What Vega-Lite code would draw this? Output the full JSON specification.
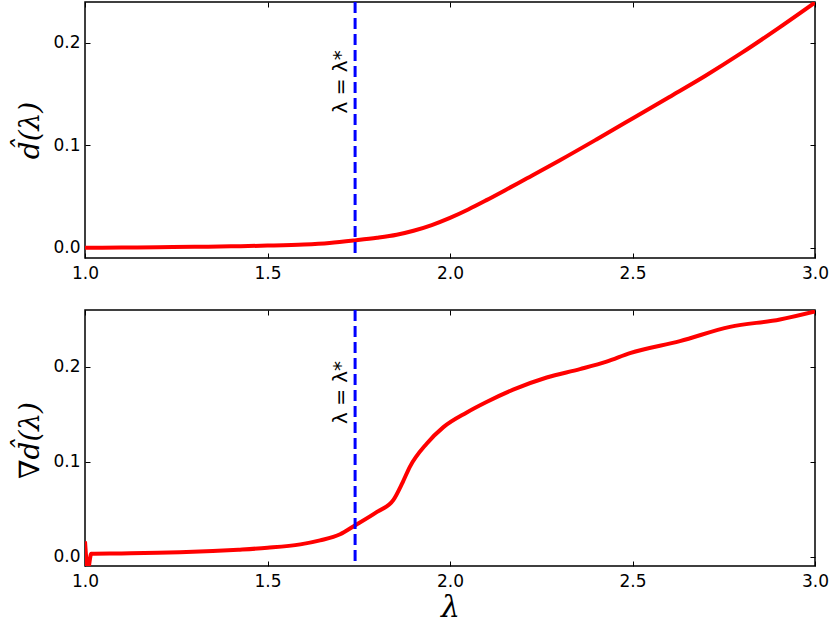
{
  "$schema": "https://vega.github.io/schema/vega-lite/v6.json",
  "padding": {"left": 15, "top": -1, "right": 1, "bottom": 5},
  "bounds": "flush",
  "spacing": 52,
  "config": {
    "view": {"stroke": "black", "strokeWidth": 1.5},
    "font": "DejaVu Sans",
    "axis": {
      "domain": false, "grid": false, "tickColor": "black", "tickSize": -5, "tickWidth": 1,
      "labelFont": "DejaVu Sans", "labelFontSize": 17, "labelColor": "black", "titleColor": "black",
      "labelFlush": false, "labelOverlap": false, "labelBound": false
    }
  },
  "datasets": {
    "top": [
      {"lambda": 1.0, "d": 0.0}, {"lambda": 1.1, "d": 0.0002}, {"lambda": 1.2, "d": 0.0005},
      {"lambda": 1.3, "d": 0.0009}, {"lambda": 1.4, "d": 0.0014}, {"lambda": 1.5, "d": 0.0021},
      {"lambda": 1.6, "d": 0.0032}, {"lambda": 1.67, "d": 0.0047}, {"lambda": 1.74, "d": 0.0072},
      {"lambda": 1.8, "d": 0.0097}, {"lambda": 1.854, "d": 0.0127}, {"lambda": 1.9, "d": 0.0166},
      {"lambda": 1.95, "d": 0.0222}, {"lambda": 2.0, "d": 0.0292}, {"lambda": 2.05, "d": 0.0374},
      {"lambda": 2.1, "d": 0.0465}, {"lambda": 2.15, "d": 0.056}, {"lambda": 2.2, "d": 0.0657},
      {"lambda": 2.3, "d": 0.0852}, {"lambda": 2.4, "d": 0.1055}, {"lambda": 2.5, "d": 0.1262},
      {"lambda": 2.6, "d": 0.147}, {"lambda": 2.7, "d": 0.168}, {"lambda": 2.8, "d": 0.1905},
      {"lambda": 2.9, "d": 0.2145}, {"lambda": 3.0, "d": 0.2395}
    ],
    "bottom": [
      {"lambda": 1.0, "g": 0.016}, {"lambda": 1.008, "g": -0.014}, {"lambda": 1.017, "g": 0.0028},
      {"lambda": 1.1, "g": 0.0032}, {"lambda": 1.2, "g": 0.0039}, {"lambda": 1.26, "g": 0.0045},
      {"lambda": 1.35, "g": 0.0058}, {"lambda": 1.42, "g": 0.0072}, {"lambda": 1.5, "g": 0.0092},
      {"lambda": 1.59, "g": 0.0128}, {"lambda": 1.644, "g": 0.017}, {"lambda": 1.699, "g": 0.0235},
      {"lambda": 1.735, "g": 0.0317}, {"lambda": 1.8, "g": 0.047}, {"lambda": 1.845, "g": 0.0597},
      {"lambda": 1.87, "g": 0.078}, {"lambda": 1.89, "g": 0.0946}, {"lambda": 1.936, "g": 0.119},
      {"lambda": 1.982, "g": 0.1365}, {"lambda": 2.046, "g": 0.152}, {"lambda": 2.1, "g": 0.163},
      {"lambda": 2.173, "g": 0.176}, {"lambda": 2.265, "g": 0.1888}, {"lambda": 2.356, "g": 0.1976},
      {"lambda": 2.429, "g": 0.2055}, {"lambda": 2.493, "g": 0.2145}, {"lambda": 2.63, "g": 0.2272},
      {"lambda": 2.767, "g": 0.2422}, {"lambda": 2.904, "g": 0.25}, {"lambda": 3.0, "g": 0.2585}
    ],
    "annot_top": [{"lambda_star": 1.74, "label_x": 1.718, "label_y": 0.162, "label": "λ = λ*"}],
    "annot_bottom": [{"lambda_star": 1.74, "label_x": 1.718, "label_y": 0.173, "label": "λ = λ*"}]
  },
  "vconcat": [
    {
      "width": 730, "height": 256,
      "layer": [
        {
          "data": {"name": "top"},
          "mark": {"type": "line", "color": "#ff0000", "strokeWidth": 4, "clip": true, "interpolate": "monotone"},
          "encoding": {
            "x": {"field": "lambda", "type": "quantitative",
                  "scale": {"domain": [1, 3], "nice": false, "zero": false},
                  "axis": {"orient": "bottom", "values": [1, 1.5, 2, 2.5, 3], "format": ".1f", "title": null, "labelPadding": 12}},
            "y": {"field": "d", "type": "quantitative",
                  "scale": {"domain": [-0.01, 0.24], "nice": false, "zero": false},
                  "axis": {"orient": "left", "values": [0, 0.1, 0.2], "format": ".1f", "labelPadding": 10,
                           "title": "d̂(λ)", "titleFont": "DejaVu Serif", "titleFontStyle": "italic", "titleFontWeight": "normal",
                           "titleFontSize": 28, "titleX": -47, "titleY": 128, "titleAngle": 270, "titleAlign": "center", "titleBaseline": "alphabetic"}}
          }
        },
        {
          "data": {"name": "annot_top"},
          "mark": {"type": "rule", "color": "#0000ff", "strokeWidth": 3, "strokeDash": [11, 5]},
          "encoding": {"x": {"field": "lambda_star", "type": "quantitative", "axis": null}}
        },
        {
          "data": {"name": "annot_top"},
          "mark": {"type": "text", "angle": 270, "align": "center", "baseline": "alphabetic", "font": "DejaVu Sans", "fontSize": 20, "color": "black"},
          "encoding": {
            "x": {"field": "label_x", "type": "quantitative", "axis": {"orient": "top", "labels": false, "values": [1, 1.5, 2, 2.5, 3], "title": null}},
            "y": {"field": "label_y", "type": "quantitative", "axis": {"orient": "right", "labels": false, "values": [0, 0.1, 0.2], "title": null}},
            "text": {"field": "label"}
          }
        }
      ],
      "resolve": {"axis": {"x": "independent", "y": "independent"}}
    },
    {
      "width": 730, "height": 256,
      "layer": [
        {
          "data": {"name": "bottom"},
          "mark": {"type": "line", "color": "#ff0000", "strokeWidth": 4, "clip": true, "interpolate": "monotone"},
          "encoding": {
            "x": {"field": "lambda", "type": "quantitative",
                  "scale": {"domain": [1, 3], "nice": false, "zero": false},
                  "axis": {"orient": "bottom", "values": [1, 1.5, 2, 2.5, 3], "format": ".1f", "labelPadding": 12,
                           "title": "λ", "titleFont": "DejaVu Serif", "titleFontStyle": "italic", "titleFontWeight": "normal",
                           "titleFontSize": 30, "titleX": 365, "titleY": 50, "titleAngle": 0, "titleAlign": "center", "titleBaseline": "alphabetic"}},
            "y": {"field": "g", "type": "quantitative",
                  "scale": {"domain": [-0.01, 0.26], "nice": false, "zero": false},
                  "axis": {"orient": "left", "values": [0, 0.1, 0.2], "format": ".1f", "labelPadding": 10,
                           "title": "∇d̂(λ)", "titleFont": "DejaVu Serif", "titleFontStyle": "italic", "titleFontWeight": "normal",
                           "titleFontSize": 28, "titleX": -47, "titleY": 130, "titleAngle": 270, "titleAlign": "center", "titleBaseline": "alphabetic"}}
          }
        },
        {
          "data": {"name": "annot_bottom"},
          "mark": {"type": "rule", "color": "#0000ff", "strokeWidth": 3, "strokeDash": [11, 5]},
          "encoding": {"x": {"field": "lambda_star", "type": "quantitative", "axis": null}}
        },
        {
          "data": {"name": "annot_bottom"},
          "mark": {"type": "text", "angle": 270, "align": "center", "baseline": "alphabetic", "font": "DejaVu Sans", "fontSize": 20, "color": "black"},
          "encoding": {
            "x": {"field": "label_x", "type": "quantitative", "axis": {"orient": "top", "labels": false, "values": [1, 1.5, 2, 2.5, 3], "title": null}},
            "y": {"field": "label_y", "type": "quantitative", "axis": {"orient": "right", "labels": false, "values": [0, 0.1, 0.2], "title": null}},
            "text": {"field": "label"}
          }
        }
      ],
      "resolve": {"axis": {"x": "independent", "y": "independent"}}
    }
  ]
}
